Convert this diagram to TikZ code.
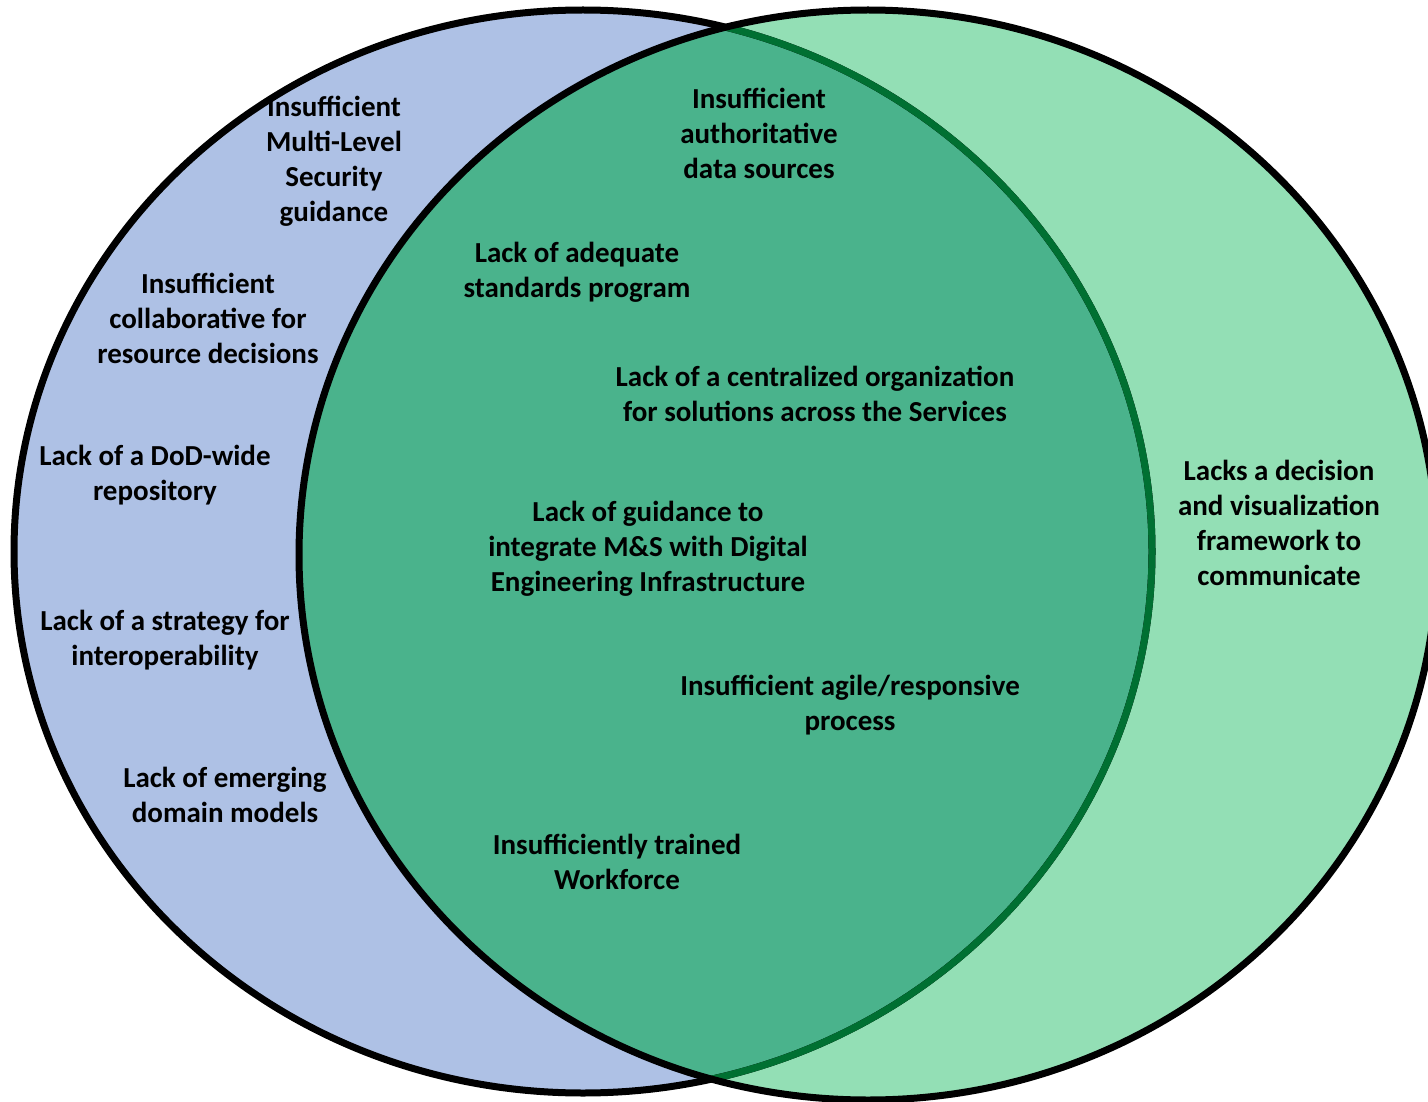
\documentclass[tikz,border=0pt]{standalone}
\usepackage{fontspec}
\setmainfont{Carlito}
\definecolor{setblue}{RGB}{174,193,229}
\definecolor{setgreen}{RGB}{147,223,181}
\definecolor{overlapgreen}{RGB}{74,179,140}
\definecolor{rimgreen}{RGB}{0,112,50}
\tikzset{
  label text/.style={align=center, font=\fontsize{29}{35}\selectfont\bfseries, text=black, inner sep=0pt},
  rim/.style={line width=7pt},
}
\begin{document}
\begin{tikzpicture}[x=1pt,y=-1pt]
  \useasboundingbox (0,0) rectangle (1428,1102);
  \clip (0,0) rectangle (1428,1102);
  % the two sets
  \def\leftset{(583,551.5) ellipse [x radius=569pt, y radius=541.5pt]}
  \def\rightset{(868,555) ellipse [x radius=569pt, y radius=545pt]}
  \fill[setblue] \leftset;
  \fill[setgreen] \rightset;
  \begin{scope}
    \clip \leftset;
    \fill[overlapgreen] \rightset;
  \end{scope}
  % outlines
  \draw[rim, black] \leftset;
  \begin{scope}
    \clip \rightset;
    \draw[rim, rimgreen] \leftset;
  \end{scope}
  \draw[rim, black] \rightset;

  % left-only items
  \node[label text] (mls) at (334,161) {Insufficient\\Multi-Level\\Security\\guidance};
  \node[label text] (collab) at (208,318) {Insufficient\\collaborative for\\resource decisions};
  \node[label text] (repo) at (155,475) {Lack of a DoD-wide\\repository};
  \node[label text] (interop) at (165,640) {Lack of a strategy for\\interoperability};
  \node[label text] (domain) at (225,795) {Lack of emerging\\domain models};

  % shared items
  \node[label text] (auth) at (759,133) {Insufficient\\authoritative\\data sources};
  \node[label text] (standards) at (577,272) {Lack of adequate\\standards program};
  \node[label text] (central) at (815,394) {Lack of a centralized organization\\for solutions across the Services};
  \node[label text] (guidance) at (648,549) {Lack of guidance to\\integrate M\&S with Digital\\Engineering Infrastructure};
  \node[label text] (agile) at (850,705) {Insufficient agile/responsive\\process};
  \node[label text] (workforce) at (617,862) {Insufficiently trained\\Workforce};

  % right-only item
  \node[label text] (viz) at (1279,523) {Lacks a decision\\and visualization\\framework to\\communicate};
\end{tikzpicture}
\end{document}
